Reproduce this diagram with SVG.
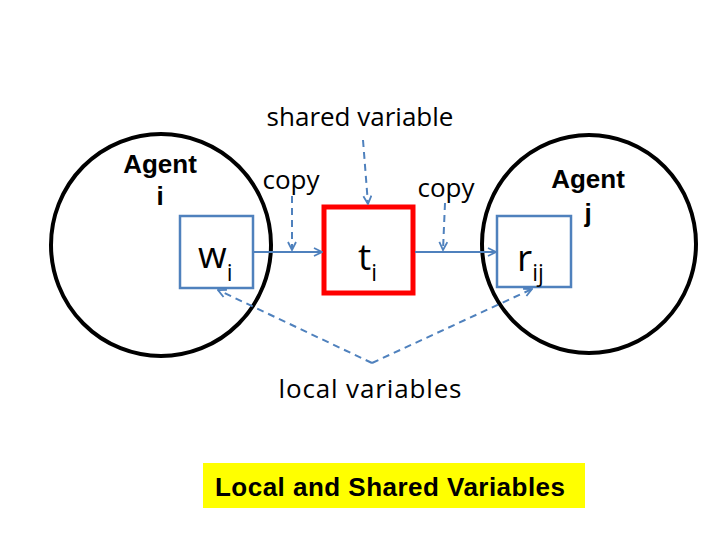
<svg xmlns="http://www.w3.org/2000/svg" width="720" height="540" viewBox="0 0 720 540">
<defs>
<style>
.agent{fill:none;stroke:#000;stroke-width:4}
.var{fill:#fff;stroke:#4F81BD;stroke-width:2.5}
.shared{fill:#fff;stroke:#FF0000;stroke-width:5}
.conn{stroke:#4F81BD;stroke-width:2;fill:none}
.dash{stroke-dasharray:7,5}
.lbl{font-family:"Open Sans","Liberation Sans",sans-serif;font-size:26px;fill:#000}
.bold{font-family:"Liberation Sans",Arial,sans-serif;font-weight:bold;font-size:26px;fill:#000}
.big{font-family:"Open Sans","Liberation Sans",sans-serif;font-size:37px;fill:#000}
.sub{font-size:23px}
</style>
<marker id="arr" viewBox="0 0 10 10" refX="9" refY="5" markerWidth="10" markerHeight="10" markerUnits="userSpaceOnUse" orient="auto">
<path d="M1,1 L9,5 L1,9" fill="none" stroke="#4F81BD" stroke-width="1.8"/>
</marker>
</defs>
<rect width="720" height="540" fill="#fff"/>
<g id="agent-i">
<ellipse class="agent" cx="161" cy="245" rx="110" ry="111"/>
<text class="bold" x="160" y="173" text-anchor="middle">Agent</text>
<text class="bold" x="160" y="205" text-anchor="middle">i</text>
</g>
<g id="agent-j">
<ellipse class="agent" cx="589" cy="244" rx="107" ry="109"/>
<text class="bold" x="588" y="188" text-anchor="middle">Agent</text>
<text class="bold" x="588" y="222" text-anchor="middle">j</text>
</g>
<g id="w-i">
<rect class="var" x="180" y="216" width="73" height="72"/>
<text class="big" x="198" y="268">w<tspan class="sub" dy="13">i</tspan></text>
</g>
<g id="t-i">
<rect class="shared" x="324" y="207" width="89" height="86"/>
<text class="big" x="358" y="270">t<tspan class="sub" dy="11">i</tspan></text>
</g>
<g id="r-ij">
<rect class="var" x="497" y="216" width="74" height="71"/>
<text class="big" x="517" y="271">r<tspan class="sub" dy="10">ij</tspan></text>
</g>
<g id="labels">
<text class="lbl" x="360" y="126" text-anchor="middle">shared variable</text>
<text class="lbl" x="291" y="189" text-anchor="middle">copy</text>
<text class="lbl" x="446" y="197" text-anchor="middle">copy</text>
<text class="lbl" x="370" y="398" text-anchor="middle" textLength="183">local variables</text>
</g>
<g id="connectors">
<line class="conn" x1="253" y1="252" x2="322" y2="252" marker-end="url(#arr)"/>
<line class="conn" x1="415" y1="252" x2="496" y2="252" marker-end="url(#arr)"/>
<line class="conn dash" x1="292" y1="196" x2="292" y2="250" marker-end="url(#arr)"/>
<line class="conn dash" x1="445" y1="203" x2="443" y2="250" marker-end="url(#arr)"/>
<line class="conn dash" x1="363" y1="140" x2="368" y2="204" marker-end="url(#arr)"/>
<line class="conn dash" x1="372" y1="363" x2="218" y2="290" marker-end="url(#arr)"/>
<line class="conn dash" x1="372" y1="363" x2="532" y2="289" marker-end="url(#arr)"/>
</g>
<g id="title">
<rect x="203" y="463" width="382" height="45" fill="#FFFF00"/>
<text class="bold" x="215" y="496" font-size="27" textLength="350">Local and Shared Variables</text>
</g>
</svg>
